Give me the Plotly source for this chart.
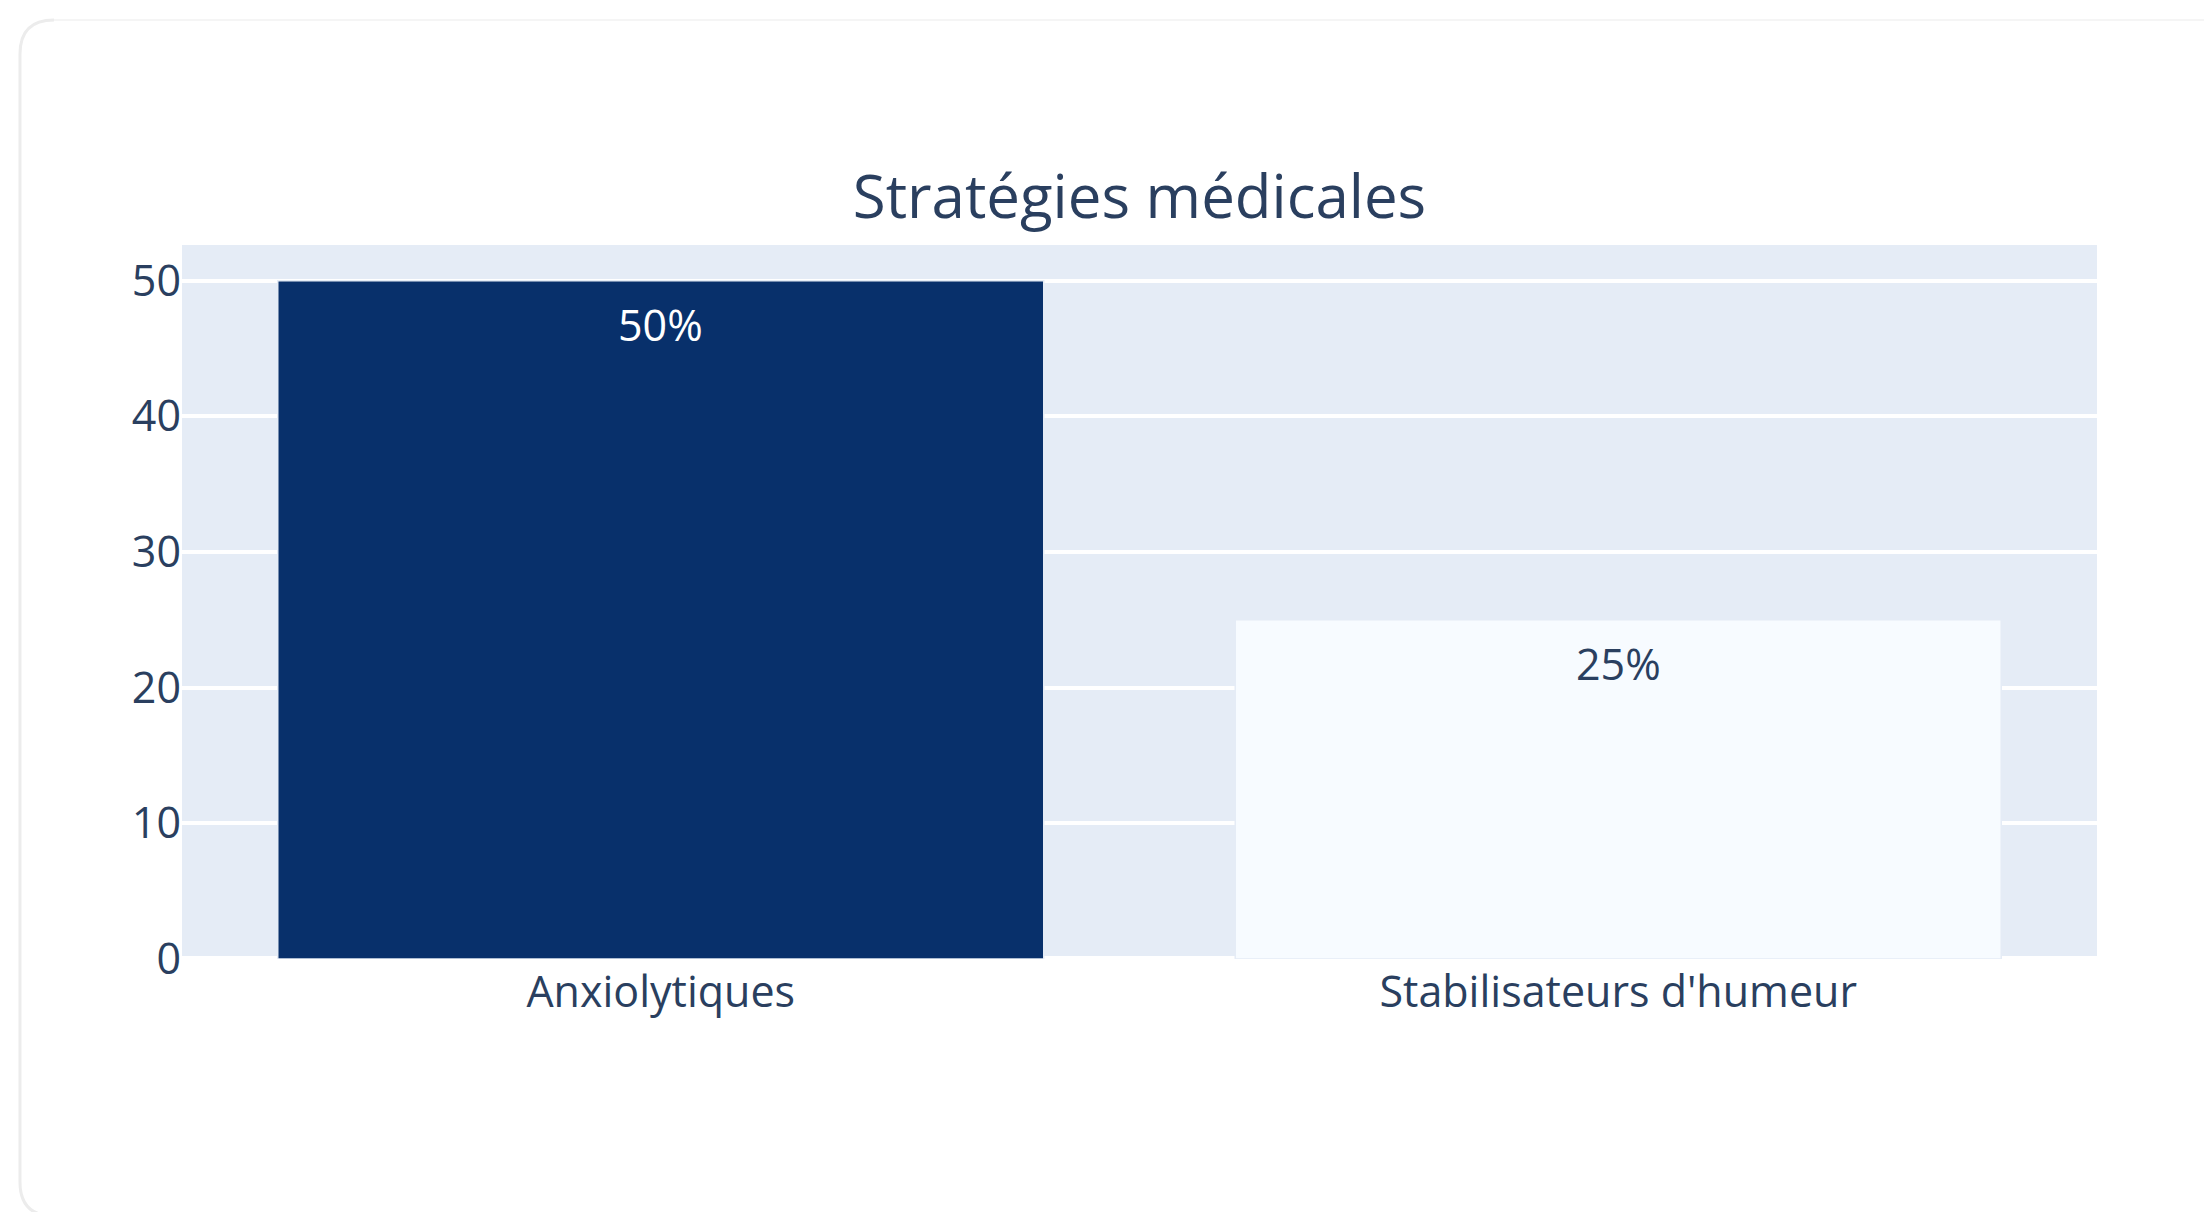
import plotly.graph_objects as go

categories = ["Anxiolytiques", "Stabilisateurs d'humeur"]
values = [50, 25]
labels = ["50%", "25%"]
bar_colors = ["#08306b", "#f7fbff"]
text_colors = ["#ffffff", "#2a3f5f"]
title_text = "Stratégies médicales"

# page body has an 8px margin, so the figure is slightly smaller than the window
W, H = 2196, 1204
L, T = 174, 237
pw, ph = 1915, 714
R, B = W - L - pw, H - T - ph

def px2paper(x, y):
    return (x - L) / pw, (H - B - y) / ph

fig = go.Figure(go.Bar(
    x=categories, y=values,
    marker=dict(color=bar_colors, line=dict(color="#E5ECF6", width=1.5)),
    showlegend=False, hoverinfo="skip",
))

for c, v, lab, tc in zip(categories, values, labels, text_colors):
    fig.add_annotation(x=c, y=v, text=lab, showarrow=False,
                       yanchor="middle", yshift=-44,
                       font=dict(size=43, color=tc, family="Open Sans"))

# card outline (rounded rectangle): faint top, slightly stronger left/bottom
x0, y0, x1, y1, r = 12, 12, 2240, 1208, 34
def P(x, y):
    a, b = px2paper(x, y)
    return f"{a:.5f},{b:.5f}"
path_top = f"M {P(x0 + r, y0)} L {P(x1, y0)}"
path_lb = (f"M {P(x1, y1)} L {P(x0 + r, y1)} "
           f"Q {P(x0, y1)} {P(x0, y1 - r)} L {P(x0, y0 + r)} Q {P(x0, y0)} {P(x0 + r, y0)}")

fig.update_layout(
    width=W, height=H,
    margin=dict(l=L, r=R, t=T, b=B),
    paper_bgcolor="#ffffff",
    plot_bgcolor="#e5ecf6",
    font=dict(family="Open Sans", color="#2a3f5f", size=43),
    title=dict(text=title_text, x=0.5, xref="paper", xanchor="center",
               y=1 - 189 / H, yref="container", yanchor="middle",
               font=dict(size=60, color="#2a3f5f")),
    bargap=0.2,
    xaxis=dict(showgrid=False, tickfont=dict(size=43), ticks="",
               ticklabelstandoff=4, automargin=False),
    yaxis=dict(range=[0, 52.63], gridcolor="#ffffff", gridwidth=3.5,
               zeroline=True, zerolinecolor="#ffffff", zerolinewidth=6,
               tickvals=[0, 10, 20, 30, 40, 50], tickfont=dict(size=43),
               ticks="", automargin=False),
    shapes=[dict(type="path", path=path_top, xref="paper", yref="paper",
                 line=dict(color="#f5f5f5", width=2), layer="below"),
            dict(type="path", path=path_lb, xref="paper", yref="paper",
                 line=dict(color="#ececec", width=3), layer="below")],
)

fig.write_html("out.html")
